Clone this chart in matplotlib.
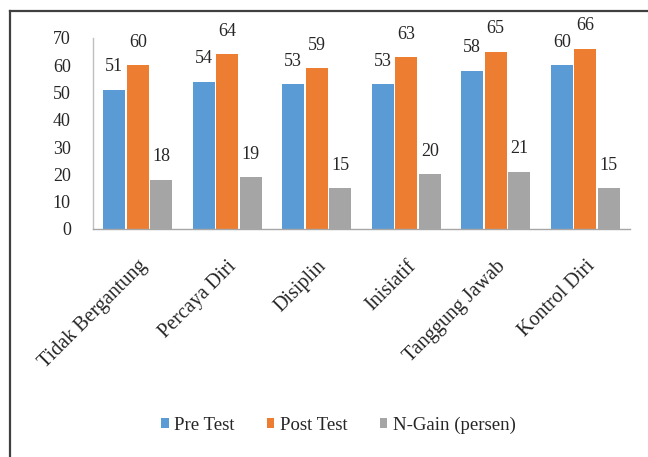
import matplotlib
matplotlib.use("Agg")
import matplotlib.pyplot as plt
from matplotlib.lines import Line2D
import numpy as np

categories = ["Tidak Bergantung", "Percaya Diri", "Disiplin", "Inisiatif",
              "Tanggung Jawab", "Kontrol Diri"]
pre_test = [51, 54, 53, 53, 58, 60]
post_test = [60, 64, 59, 63, 65, 66]
n_gain = [18, 19, 15, 20, 21, 15]
series_names = ["Pre Test", "Post Test", "N-Gain (persen)"]
y_ticks = [0, 10, 20, 30, 40, 50, 60, 70]

colors = ["#5B9BD5", "#ED7D31", "#A5A5A5"]
text_color = "#262626"
plt.rcParams["font.family"] = ["Liberation Serif", "DejaVu Serif"]

fig = plt.figure(figsize=(6.48, 4.57), dpi=100)
ax = fig.add_axes([0.1435, 0.499, 0.8287, 0.4179])

x = np.arange(len(categories))
step = 0.263
width = 0.245
series = [pre_test, post_test, n_gain]
for i, (vals, name, col) in enumerate(zip(series, series_names, colors)):
    pos = x + (i - 1) * step
    ax.bar(pos, vals, width=width, color=col, label=name, zorder=2)
    for xp, v in zip(pos, vals):
        ax.annotate(f"{v}", (xp, v), xytext=(0, 16.5), textcoords="offset points",
                    ha="center", va="center", fontsize=13, color=text_color)

ax.set_xlim(-0.5, len(categories) - 0.5)
ax.set_ylim(0, 70)
ax.set_yticks(y_ticks)
ax.tick_params(axis="y", length=0, pad=16, labelsize=13, labelcolor=text_color)
ax.set_xticks(x)
ax.set_xticklabels(categories, rotation=45, ha="right", va="top",
                   rotation_mode="anchor", fontsize=14.5, color=text_color)
ax.tick_params(axis="x", length=0, pad=20)

for s in ["top", "right"]:
    ax.spines[s].set_visible(False)
ax.spines["left"].set_color("#BFBFBF")
ax.spines["bottom"].set_color("#A6A6A6")
ax.spines["left"].set_linewidth(1.0)
ax.spines["bottom"].set_linewidth(1.0)

leg = fig.legend(loc="center", bbox_to_anchor=(0.522, 0.07), ncol=3,
                 frameon=False, fontsize=13.5, handlelength=0.42, handleheight=0.42,
                 handletextpad=0.3, columnspacing=1.7)
for t in leg.get_texts():
    t.set_color(text_color)

# chart frame (left and top edges)
fig.add_artist(Line2D([9.5 / 648, 9.5 / 648], [0, 1 - 10.5 / 457],
                      transform=fig.transFigure, color="#404040", lw=1.6))
fig.add_artist(Line2D([9.5 / 648, 1], [1 - 10.5 / 457, 1 - 10.5 / 457],
                      transform=fig.transFigure, color="#404040", lw=1.6))

fig.savefig("out.png", dpi=100, facecolor="white")
